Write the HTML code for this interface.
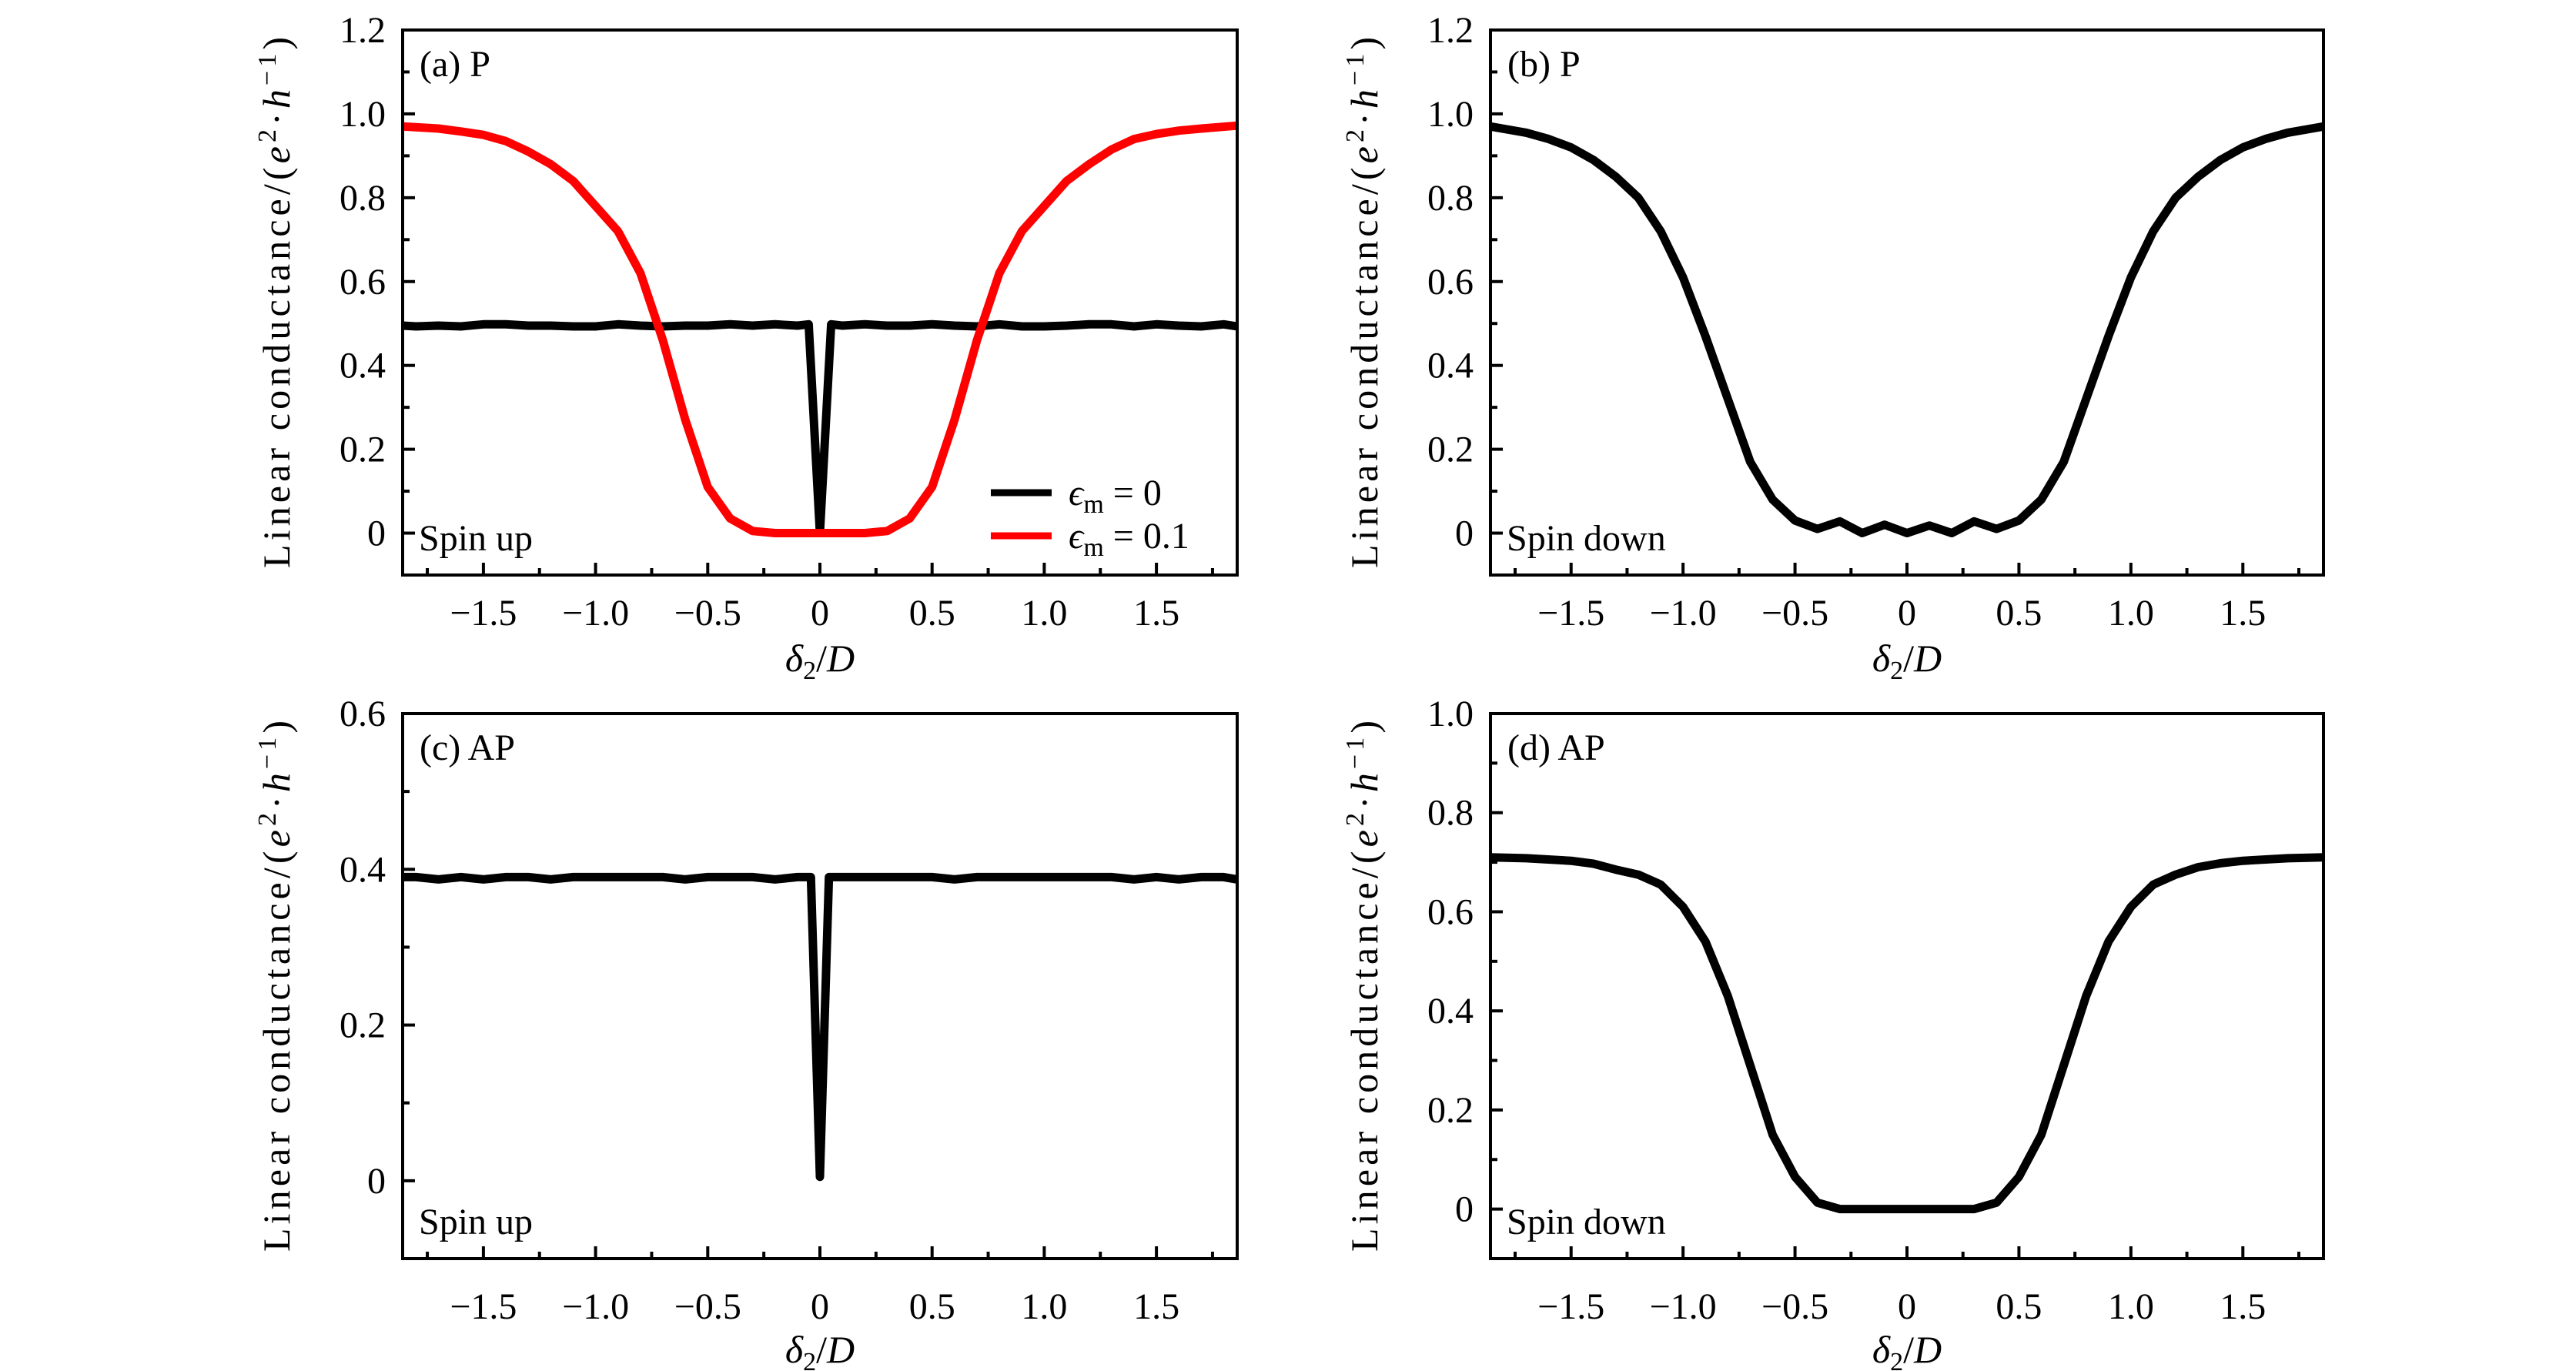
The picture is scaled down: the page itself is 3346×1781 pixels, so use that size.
<!DOCTYPE html>
<html><head><meta charset="utf-8">
<style>
html,body{margin:0;padding:0;background:#fff;}
svg{display:block;font-family:"Liberation Serif",serif;}
</style></head>
<body>
<svg id="fig" width="3346" height="1781" viewBox="0 0 3346 1781" xmlns="http://www.w3.org/2000/svg"></svg>
<script>
// ---- data ----
const xTicks = [-1.5, -1.0, -0.5, 0, 0.5, 1.0, 1.5];
const xTickLabels = ["\u22121.5", "\u22121.0", "\u22120.5", "0", "0.5", "1.0", "1.5"];
const yTicksAB = [0, 0.2, 0.4, 0.6, 0.8, 1.0, 1.2];
const yTickLabelsAB = ["0", "0.2", "0.4", "0.6", "0.8", "1.0", "1.2"];
const yTicksC = [0, 0.2, 0.4, 0.6];
const yTickLabelsC = ["0", "0.2", "0.4", "0.6"];
const yTicksD = [0, 0.2, 0.4, 0.6, 0.8, 1.0];
const yTickLabelsD = ["0", "0.2", "0.4", "0.6", "0.8", "1.0"];

// panel (a) black eps_m = 0
const xA0 = [-1.86,-1.8,-1.7,-1.6,-1.5,-1.4,-1.3,-1.2,-1.1,-1.0,-0.9,-0.8,-0.7,-0.6,-0.5,-0.4,-0.3,-0.2,-0.1,-0.05,0,0.05,0.1,0.2,0.3,0.4,0.5,0.6,0.7,0.8,0.9,1.0,1.1,1.2,1.3,1.4,1.5,1.6,1.7,1.8,1.86];
const yA0 = [0.495,0.493,0.495,0.493,0.498,0.498,0.495,0.495,0.493,0.493,0.498,0.495,0.493,0.495,0.495,0.498,0.495,0.498,0.495,0.498,0.0,0.498,0.495,0.498,0.495,0.495,0.498,0.495,0.493,0.498,0.493,0.493,0.495,0.498,0.498,0.493,0.498,0.495,0.493,0.498,0.493];
// panel (a) red eps_m = 0.1
const xA1 = [-1.86,-1.7,-1.6,-1.5,-1.4,-1.3,-1.2,-1.1,-1.0,-0.9,-0.8,-0.7,-0.6,-0.5,-0.4,-0.3,-0.2,-0.1,0,0.1,0.2,0.3,0.4,0.5,0.6,0.7,0.8,0.9,1.0,1.1,1.2,1.3,1.4,1.5,1.6,1.7,1.86];
const yA1 = [0.97,0.965,0.958,0.95,0.935,0.91,0.88,0.84,0.78,0.72,0.62,0.46,0.27,0.11,0.035,0.005,0.0,0.0,0.0,0.0,0.0,0.005,0.035,0.11,0.27,0.46,0.62,0.72,0.78,0.84,0.88,0.915,0.94,0.952,0.96,0.965,0.972];
// panel (b) spin down
const xB = [-1.86,-1.7,-1.6,-1.5,-1.4,-1.3,-1.2,-1.1,-1.0,-0.9,-0.8,-0.7,-0.6,-0.5,-0.4,-0.3,-0.2,-0.1,0,0.1,0.2,0.3,0.4,0.5,0.6,0.7,0.8,0.9,1.0,1.1,1.2,1.3,1.4,1.5,1.6,1.7,1.86];
const yB = [0.97,0.955,0.94,0.92,0.89,0.85,0.8,0.72,0.61,0.47,0.32,0.17,0.08,0.03,0.01,0.028,0.0,0.02,0.0,0.018,0.0,0.028,0.01,0.03,0.08,0.17,0.32,0.47,0.61,0.72,0.8,0.85,0.89,0.92,0.94,0.955,0.97];
// panel (c) spin up AP
const xC = [-1.86,-1.8,-1.7,-1.6,-1.5,-1.4,-1.3,-1.2,-1.1,-1.0,-0.9,-0.8,-0.7,-0.6,-0.5,-0.4,-0.3,-0.2,-0.1,-0.04,0,0.04,0.1,0.2,0.3,0.4,0.5,0.6,0.7,0.8,0.9,1.0,1.1,1.2,1.3,1.4,1.5,1.6,1.7,1.8,1.86];
const yC = [0.39,0.39,0.387,0.39,0.387,0.39,0.39,0.387,0.39,0.39,0.39,0.39,0.39,0.387,0.39,0.39,0.39,0.387,0.39,0.39,0.005,0.39,0.39,0.39,0.39,0.39,0.39,0.387,0.39,0.39,0.39,0.39,0.39,0.39,0.39,0.387,0.39,0.387,0.39,0.39,0.387];
// panel (d) spin down AP
const xD = [-1.86,-1.7,-1.5,-1.4,-1.3,-1.2,-1.1,-1.0,-0.9,-0.8,-0.7,-0.6,-0.5,-0.4,-0.3,-0.2,-0.1,0,0.1,0.2,0.3,0.4,0.5,0.6,0.7,0.8,0.9,1.0,1.1,1.2,1.3,1.4,1.5,1.7,1.86];
const yD = [0.71,0.708,0.703,0.697,0.685,0.675,0.655,0.61,0.54,0.43,0.29,0.15,0.065,0.013,0.0,0.0,0.0,0.0,0.0,0.0,0.0,0.013,0.065,0.15,0.29,0.43,0.54,0.61,0.655,0.675,0.69,0.698,0.703,0.708,0.71];

// ---- drawing ----
const NS = "http://www.w3.org/2000/svg";
const svg = document.getElementById("fig");
function el(tag, attrs, parent) {
  const e = document.createElementNS(NS, tag);
  for (const k in attrs) e.setAttribute(k, attrs[k]);
  (parent || svg).appendChild(e);
  return e;
}
const XMIN = -1.86, XMAX = 1.86;

function panel(cfg) {
  const g = el("g", {});
  
  
  const L = cfg.l, R = cfg.r, T = cfg.t, B = cfg.b;
  const sx = v => L + (v - XMIN) / (XMAX - XMIN) * (R - L);
  const sy = v => B - (v - cfg.ymin) / (cfg.ymax - cfg.ymin) * (B - T);
  cfg.series.forEach(s => {
    const d = s.x.map((xv, i) => (i ? "L" : "M") + sx(xv).toFixed(1) + "," + sy(s.y[i]).toFixed(1)).join(" ");
    const p = el("path", {d: d, fill: "none", stroke: s.color, "stroke-width": 11, "stroke-linejoin": "round", "stroke-linecap": "butt"}, g);
    
    
  });
  const fr = el("rect", {x: L, y: T, width: R - L, height: B - T, fill: "none", stroke: "#000", "stroke-width": 4}, g);
  
  
  for (let k = -7; k <= 7; k++) {
    const v = k * 0.25;
    const X = sx(v);
    const len = (k % 2 === 0) ? 16 : 9;
    el("line", {x1: X, x2: X, y1: B, y2: B - len, stroke: "#000", "stroke-width": 4}, g);
  }
  xTicks.forEach((v, i) => {
    const t = el("text", {x: sx(v), y: cfg.xlabY, "font-size": 48, "text-anchor": "middle"}, g);
    t.textContent = xTickLabels[i];
    
    
  });
  for (let v = cfg.ymin + 0.1; v < cfg.ymax + 0.001; v += 0.1) {
    const Y = sy(v);
    const major = Math.abs(Math.round(v * 10) % 2) === 0;
    el("line", {x1: L, x2: L + (major ? 16 : 9), y1: Y, y2: Y, stroke: "#000", "stroke-width": 4}, g);
  }
  cfg.yticks.forEach((v, i) => {
    const t = el("text", {x: L - 22, y: sy(v) + 16, "font-size": 48, "text-anchor": "end"}, g);
    t.textContent = cfg.ylabels[i];
    
    
  });
  const xt = el("text", {x: (L + R) / 2, y: cfg.xtitleY, "font-size": 50, "text-anchor": "middle"}, g);
  
  
  xt.innerHTML = '<tspan font-style="italic">\u03b4</tspan><tspan font-size="34" dy="10">2</tspan><tspan dy="-10">/</tspan><tspan font-style="italic">D</tspan>';
  const cx = L - 147, cy = (T + B) / 2;
  const yt = el("text", {x: cx, y: cy, "font-size": 50, "text-anchor": "middle", transform: "rotate(-90 " + cx + " " + cy + ")", textLength: 690, lengthAdjust: "spacing"}, g);
  
  
  yt.innerHTML = 'Linear conductance/(<tspan font-style="italic">e</tspan><tspan font-size="34" dy="-18">2</tspan><tspan dy="18">\u00b7</tspan><tspan font-style="italic">h</tspan><tspan font-size="34" dy="-18">\u22121</tspan><tspan dy="18">)</tspan>';
  const pl = el("text", {x: L + 22, y: T + 60, "font-size": 48}, g);
  pl.textContent = cfg.label;
  
  
  const sl = el("text", {x: L + 21, y: B - 32, "font-size": 48}, g);
  sl.textContent = cfg.spin;
  
  
  return {g, sx, sy};
}

panel({name: "panel-a", l: 523, r: 1607, t: 39, b: 747, ymin: -0.1, ymax: 1.2, yticks: yTicksAB, ylabels: yTickLabelsAB, xlabY: 812, xtitleY: 872, label: "(a) P", spin: "Spin up",
  series: [{name: "series-eps0", x: xA0, y: yA0, color: "#000"}, {name: "series-eps01", x: xA1, y: yA1, color: "#ff0000"}]});
panel({name: "panel-b", l: 1936, r: 3018, t: 39, b: 747, ymin: -0.1, ymax: 1.2, yticks: yTicksAB, ylabels: yTickLabelsAB, xlabY: 812, xtitleY: 872, label: "(b) P", spin: "Spin down",
  series: [{name: "series-spin-down", x: xB, y: yB, color: "#000"}]});
panel({name: "panel-c", l: 523, r: 1607, t: 927, b: 1635, ymin: -0.1, ymax: 0.6, yticks: yTicksC, ylabels: yTickLabelsC, xlabY: 1713, xtitleY: 1770, label: "(c) AP", spin: "Spin up",
  series: [{name: "series-spin-up", x: xC, y: yC, color: "#000"}]});
panel({name: "panel-d", l: 1936, r: 3018, t: 927, b: 1635, ymin: -0.1, ymax: 1.0, yticks: yTicksD, ylabels: yTickLabelsD, xlabY: 1713, xtitleY: 1770, label: "(d) AP", spin: "Spin down",
  series: [{name: "series-spin-down", x: xD, y: yD, color: "#000"}]});

const lg = el("g", {});


const legendItems = [{c: "#000", v: "0", y: 640}, {c: "#ff0000", v: "0.1", y: 696}];
legendItems.forEach(it => {
  const ln = el("line", {x1: 1287, x2: 1366, y1: it.y, y2: it.y, stroke: it.c, "stroke-width": 9}, lg);
  
  
  const t = el("text", {x: 1388, y: it.y + 16, "font-size": 48}, lg);
  
  
  t.innerHTML = '<tspan font-style="italic">\u03f5</tspan><tspan font-size="34" dy="10">m</tspan><tspan dy="-10"> = ' + it.v + '</tspan>';
});
</script>
</body></html>
